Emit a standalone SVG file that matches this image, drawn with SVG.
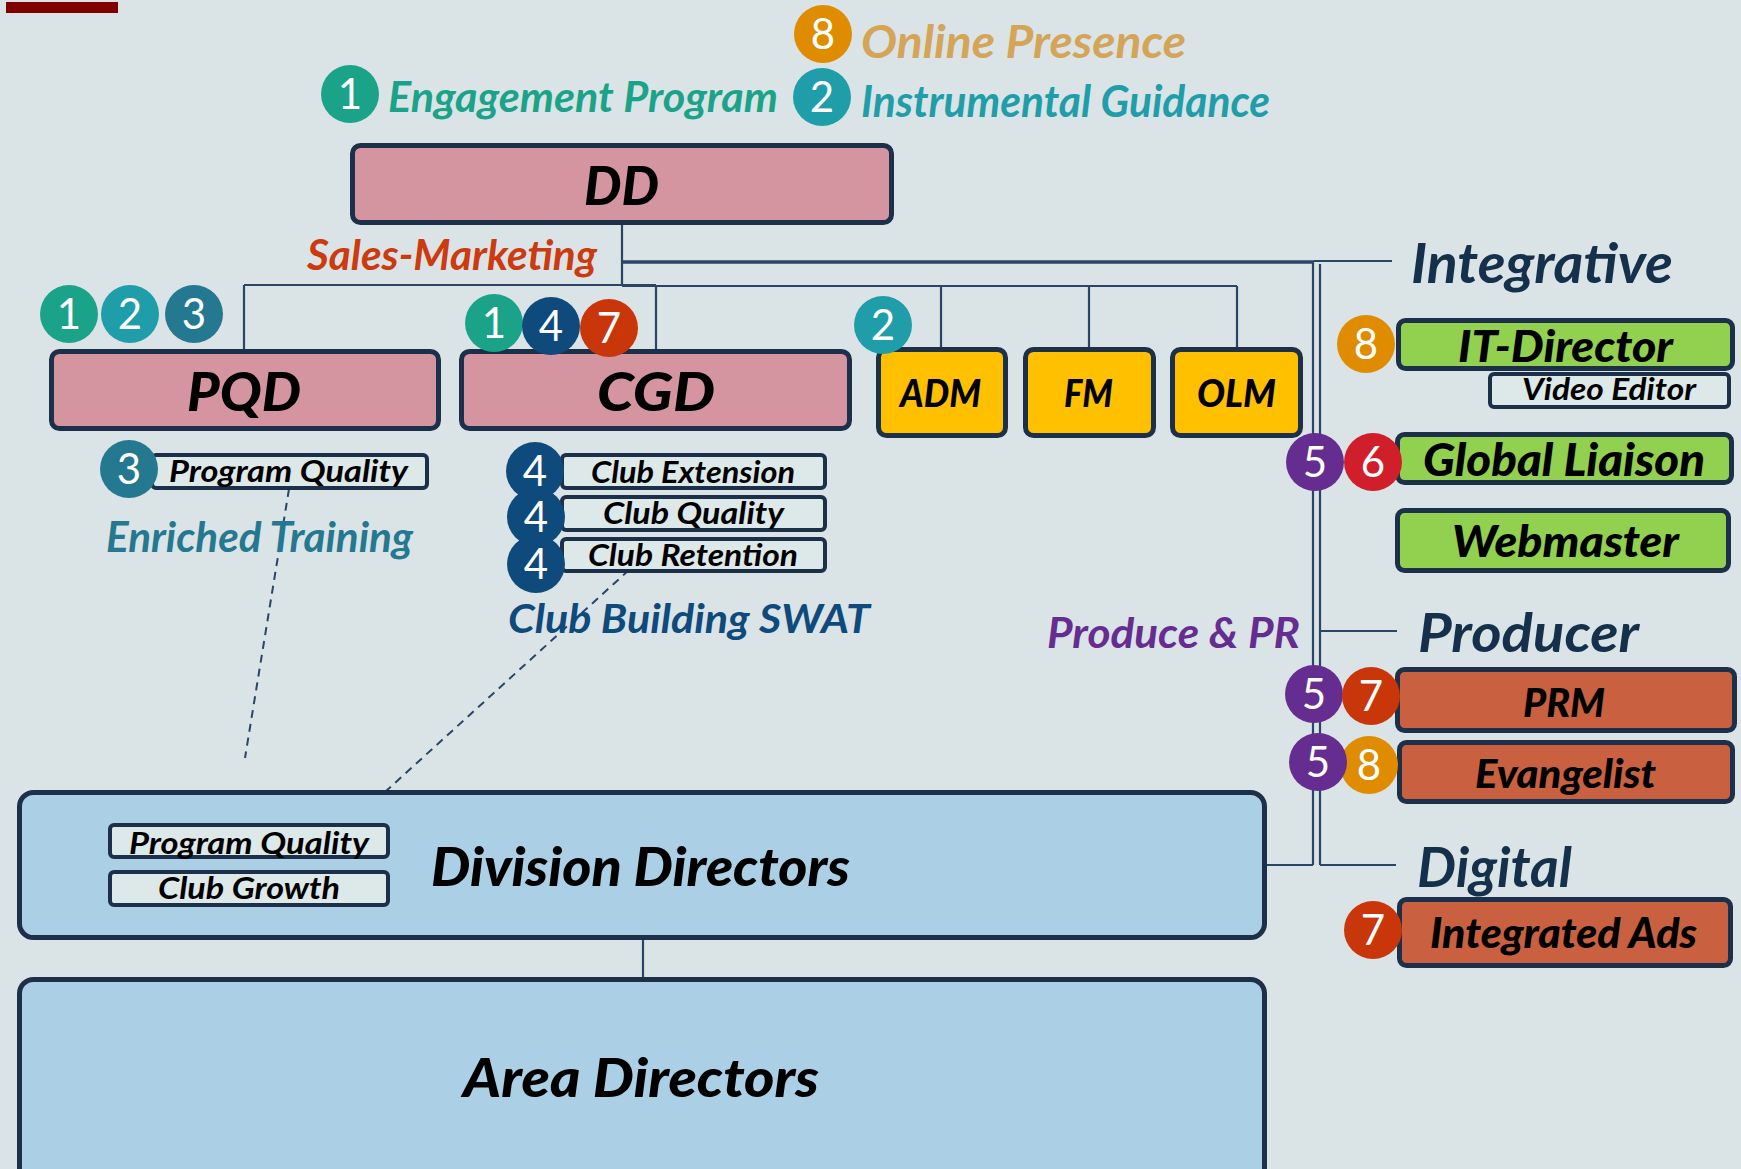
<svg xmlns="http://www.w3.org/2000/svg" width="1741" height="1169" viewBox="0 0 1741 1169">
<defs>
<style>
.bg{fill:#DAE3E6}
.box{stroke:#1D3049;stroke-width:5}
.sub{fill:#DDE8E9;stroke:#1D3049;stroke-width:4}
.pink{fill:#D595A0}
.yel{fill:#FFC000}
.grn{fill:#92D050}
.brn{fill:#C96140}
.blu{fill:#ABD0E6}
.ln{stroke:#2A4566;stroke-width:2.2;fill:none}
.dash{stroke:#2A4566;stroke-width:2;fill:none;stroke-dasharray:8 6}
.t{font-family:Lato,"Liberation Sans",sans-serif;font-style:italic;font-weight:700}
.lbl{fill:#000;font-weight:900}
.num{font-family:Lato,"Liberation Sans",sans-serif;font-size:42px;fill:#fff;text-anchor:middle}
.c1{fill:#1BA38A}.c2{fill:#1F9EAA}.c3{fill:#24788F}.c4{fill:#0E4A7B}
.c5{fill:#662D91}.c6{fill:#D01E2A}.c7{fill:#C93609}.c8{fill:#E08C00}
</style>
</defs>
<rect class="bg" x="0" y="0" width="1741" height="1169"/>
<rect x="6" y="2" width="112" height="11" fill="#800000"/>

<g id="connectors">
<line class="ln" x1="622" y1="225" x2="622" y2="286"/>
<line class="ln" x1="244" y1="285" x2="656" y2="285"/>
<line class="ln" x1="622" y1="286" x2="1237" y2="286"/>
<line class="ln" x1="244" y1="285" x2="244" y2="349"/>
<line class="ln" x1="656" y1="285" x2="656" y2="349"/>
<line class="ln" x1="941" y1="286" x2="941" y2="347"/>
<line class="ln" x1="1089" y1="286" x2="1089" y2="347"/>
<line class="ln" x1="1237" y1="286" x2="1237" y2="347"/>
<line x1="622" y1="262" x2="1314" y2="262" stroke="#2A4566" stroke-width="3.5"/>
<line class="ln" x1="1314" y1="261" x2="1392" y2="261"/>
<line class="ln" x1="1313" y1="262" x2="1313" y2="865"/>
<line class="ln" x1="1320" y1="264" x2="1320" y2="865"/>
<line class="ln" x1="1320" y1="631" x2="1397" y2="631"/>
<line class="ln" x1="1320" y1="865" x2="1396" y2="865"/>
<line class="ln" x1="1267" y1="865" x2="1313" y2="865"/>
<line class="ln" x1="643" y1="940" x2="643" y2="977"/>
<line class="dash" x1="289" y1="489" x2="245" y2="758"/>
<line class="dash" x1="629" y1="570" x2="352" y2="822"/>
</g>

<g id="legend">
<circle class="c8" cx="823" cy="34" r="29"/><text class="num" x="823" y="49">8</text>
<text class="t" x="861" y="58" font-size="46" fill="#D4A557" textLength="325" lengthAdjust="spacingAndGlyphs">Online Presence</text>
<circle class="c2" cx="822" cy="97" r="29"/><text class="num" x="822" y="112">2</text>
<text class="t" x="861" y="117" font-size="44" fill="#1F9EAA" textLength="409" lengthAdjust="spacingAndGlyphs">Instrumental Guidance</text>
<circle class="c1" cx="350" cy="94" r="29"/><text class="num" x="350" y="109">1</text>
<text class="t" x="388" y="112" font-size="42" fill="#1BA38A" textLength="390" lengthAdjust="spacingAndGlyphs">Engagement Program</text>
<text class="t" x="307" y="270" font-size="42" fill="#CC3A0E" textLength="290" lengthAdjust="spacingAndGlyphs">Sales-Marketing</text>
<text class="t" x="106" y="552" font-size="42" fill="#24788F" textLength="307" lengthAdjust="spacingAndGlyphs">Enriched Training</text>
<text class="t" x="508" y="633" font-size="41" fill="#0E4A7B" textLength="362" lengthAdjust="spacingAndGlyphs">Club Building SWAT</text>
<text class="t" x="1047" y="648" font-size="42" fill="#662D91" textLength="253" lengthAdjust="spacingAndGlyphs">Produce &amp; PR</text>
<text class="t" x="1411" y="283" font-size="56" fill="#15304A" textLength="262" lengthAdjust="spacingAndGlyphs">Integrative</text>
<text class="t" x="1418" y="652" font-size="54" fill="#15304A" textLength="221" lengthAdjust="spacingAndGlyphs">Producer</text>
<text class="t" x="1417" y="887" font-size="56" fill="#15304A" textLength="155" lengthAdjust="spacingAndGlyphs">Digital</text>
</g>

<g id="dd">
<rect class="box pink" x="352.5" y="145.5" width="539" height="77" rx="8"/>
<text class="t lbl" x="584" y="205" font-size="54" textLength="75" lengthAdjust="spacingAndGlyphs">DD</text>
</g>

<g id="pqd">
<rect class="box pink" x="51.5" y="351.5" width="387" height="77" rx="8"/>
<text class="t lbl" x="187" y="411" font-size="54" textLength="114" lengthAdjust="spacingAndGlyphs">PQD</text>
<circle class="c1" cx="69" cy="314" r="29"/><text class="num" x="69" y="329">1</text>
<circle class="c2" cx="130" cy="314" r="29"/><text class="num" x="130" y="329">2</text>
<circle class="c3" cx="194" cy="314" r="29"/><text class="num" x="194" y="329">3</text>
</g>

<g id="pqd-program-quality">
<rect class="sub" x="152" y="455" width="275" height="33" rx="4"/>
<text class="t" x="169" y="482" font-size="30" font-weight="500" fill="#000" textLength="239" lengthAdjust="spacingAndGlyphs">Program Quality</text>
<circle class="c3" cx="129" cy="469" r="29"/><text class="num" x="129" y="484">3</text>
</g>

<g id="cgd">
<rect class="box pink" x="461.5" y="351.5" width="388" height="77" rx="8"/>
<text class="t lbl" x="597" y="411" font-size="54" textLength="118" lengthAdjust="spacingAndGlyphs">CGD</text>
<circle class="c1" cx="494" cy="323" r="29"/><text class="num" x="494" y="338">1</text>
<circle class="c4" cx="551" cy="326" r="29"/><text class="num" x="551" y="341">4</text>
<circle class="c7" cx="609" cy="328" r="29"/><text class="num" x="609" y="343">7</text>
</g>

<g id="club-extension">
<rect class="sub" x="562" y="455" width="263" height="33" rx="4"/>
<text class="t" x="591" y="483" font-size="30" font-weight="500" fill="#000" textLength="204" lengthAdjust="spacingAndGlyphs">Club Extension</text>
</g>
<g id="club-quality">
<rect class="sub" x="562" y="497" width="263" height="33" rx="4"/>
<text class="t" x="603" y="524" font-size="30" font-weight="500" fill="#000" textLength="181" lengthAdjust="spacingAndGlyphs">Club Quality</text>
</g>
<g id="club-retention">
<rect class="sub" x="562" y="539" width="263" height="32" rx="4"/>
<text class="t" x="588" y="566" font-size="30" font-weight="500" fill="#000" textLength="210" lengthAdjust="spacingAndGlyphs">Club Retention</text>
</g>
<g id="club-badges">
<circle class="c4" cx="535" cy="471" r="29"/><text class="num" x="535" y="486">4</text>
<circle class="c4" cx="536" cy="517" r="29"/><text class="num" x="536" y="532">4</text>
<circle class="c4" cx="536" cy="564" r="29"/><text class="num" x="536" y="579">4</text>
</g>

<g id="adm">
<rect class="box yel" x="878.5" y="349.5" width="127" height="86" rx="8"/>
<text class="t lbl" x="900" y="407" font-size="38" textLength="81" lengthAdjust="spacingAndGlyphs">ADM</text>
<circle class="c2" cx="883" cy="325" r="29"/><text class="num" x="883" y="340">2</text>
</g>
<g id="fm">
<rect class="box yel" x="1025.5" y="349.5" width="128" height="86" rx="8"/>
<text class="t lbl" x="1064" y="407" font-size="38" textLength="49" lengthAdjust="spacingAndGlyphs">FM</text>
</g>
<g id="olm">
<rect class="box yel" x="1172.5" y="349.5" width="128" height="86" rx="8"/>
<text class="t lbl" x="1197" y="407" font-size="38" textLength="79" lengthAdjust="spacingAndGlyphs">OLM</text>
</g>

<g id="it-director">
<rect class="box grn" x="1398.5" y="320.5" width="334" height="48" rx="7"/>
<text class="t lbl" x="1458" y="362" font-size="44" textLength="215" lengthAdjust="spacingAndGlyphs">IT-Director</text>
<circle class="c8" cx="1366" cy="344" r="29"/><text class="num" x="1366" y="359">8</text>
</g>
<g id="video-editor">
<rect class="sub" x="1490" y="374" width="239" height="33" rx="4"/>
<text class="t" x="1522" y="400" font-size="31" font-weight="500" fill="#000" textLength="174" lengthAdjust="spacingAndGlyphs">Video Editor</text>
</g>
<g id="global-liaison">
<rect class="box grn" x="1397.5" y="434.5" width="334" height="48" rx="7"/>
<text class="t lbl" x="1423" y="476" font-size="46" textLength="282" lengthAdjust="spacingAndGlyphs">Global Liaison</text>
<circle class="c5" cx="1315" cy="462" r="29"/><text class="num" x="1315" y="477">5</text>
<circle class="c6" cx="1373" cy="462" r="29"/><text class="num" x="1373" y="477">6</text>
</g>
<g id="webmaster">
<rect class="box grn" x="1397.5" y="510.5" width="331" height="60" rx="7"/>
<text class="t lbl" x="1452" y="557" font-size="44" textLength="227" lengthAdjust="spacingAndGlyphs">Webmaster</text>
</g>

<g id="prm">
<rect class="box brn" x="1397.5" y="669.5" width="337" height="61" rx="7"/>
<text class="t lbl" x="1523" y="717" font-size="40" textLength="82" lengthAdjust="spacingAndGlyphs">PRM</text>
<circle class="c5" cx="1314" cy="694" r="29"/><text class="num" x="1314" y="709">5</text>
<circle class="c7" cx="1371" cy="696" r="29"/><text class="num" x="1371" y="711">7</text>
</g>
<g id="evangelist">
<rect class="box brn" x="1399.5" y="742.5" width="333" height="59" rx="7"/>
<text class="t lbl" x="1475" y="788" font-size="40" textLength="181" lengthAdjust="spacingAndGlyphs">Evangelist</text>
<circle class="c8" cx="1369" cy="765" r="29"/><text class="num" x="1369" y="780">8</text>
<circle class="c5" cx="1318" cy="762" r="29"/><text class="num" x="1318" y="777">5</text>
</g>
<g id="integrated-ads">
<rect class="box brn" x="1399.5" y="899.5" width="331" height="66" rx="7"/>
<text class="t lbl" x="1430" y="948" font-size="42" textLength="267" lengthAdjust="spacingAndGlyphs">Integrated Ads</text>
<circle class="c7" cx="1373" cy="930" r="29"/><text class="num" x="1373" y="945">7</text>
</g>

<g id="division-directors">
<rect class="box blu" x="19.5" y="792.5" width="1245" height="145" rx="14"/>
<text class="t lbl" x="431" y="886" font-size="54" textLength="419" lengthAdjust="spacingAndGlyphs">Division Directors</text>
</g>
<g id="dd-program-quality">
<rect class="sub" x="110" y="825" width="278" height="32" rx="4"/>
<text class="t" x="129" y="854" font-size="30" font-weight="500" fill="#000" textLength="240" lengthAdjust="spacingAndGlyphs">Program Quality</text>
</g>
<g id="dd-club-growth">
<rect class="sub" x="110" y="872" width="278" height="33" rx="4"/>
<text class="t" x="158" y="899" font-size="30" font-weight="500" fill="#000" textLength="182" lengthAdjust="spacingAndGlyphs">Club Growth</text>
</g>

<g id="area-directors">
<rect class="box blu" x="19.5" y="979.5" width="1245" height="210" rx="14"/>
<text class="t lbl" x="463" y="1097" font-size="54" textLength="356" lengthAdjust="spacingAndGlyphs">Area Directors</text>
</g>
</svg>
